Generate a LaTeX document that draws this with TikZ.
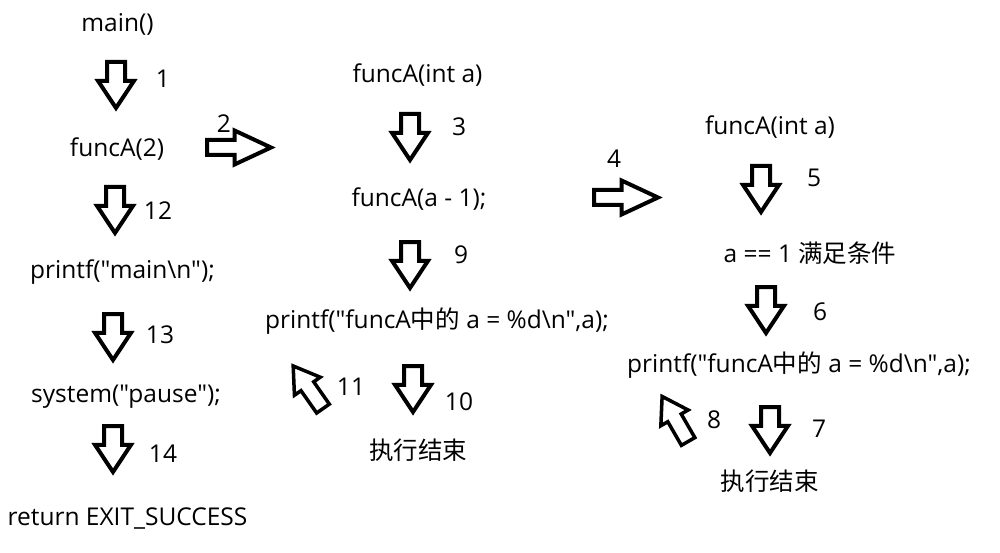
\documentclass[tikz,border=0pt]{standalone}
\usepackage{fontspec}
\setmainfont{Open Sans}[Ligatures=TeXOff]
\newfontfamily\cjk{Noto Sans CJK SC}
\usetikzlibrary{shapes.arrows}
\newcommand\dq{{\char34}}
\tikzset{
  txt/.style={inner sep=0pt, anchor=base, font=\fontsize{24.5}{28}\selectfont},
  darr/.style={single arrow, draw=black, line width=4pt, fill=white,
    inner xsep=0pt, inner ysep=7pt, minimum height=46pt,
    single arrow head extend=9pt, single arrow tip angle=67,
    rotate=-90, anchor=tail},
  harr/.style={single arrow, draw=black, line width=4pt, fill=white,
    inner xsep=0pt, inner ysep=5.5pt, minimum height=64pt,
    single arrow head extend=9.5pt, single arrow tip angle=50, anchor=tail},
  diarr/.style={single arrow, draw=black, line width=3.5pt, fill=white,
    inner xsep=0pt, inner ysep=6pt, minimum height=52pt,
    single arrow head extend=8pt, single arrow tip angle=65, anchor=tail},
}
\begin{document}
\begin{tikzpicture}[x=1pt,y=-1pt]
\useasboundingbox[fill=white] (0,0) rectangle (1000,553);
% left column
\node[txt] (main) at (117.5,32) {main()};
\node[darr] (a1) at (116,60) {};
\node[txt] (n1) at (163,88) {1};
\node[txt] (callA2) at (117,157) {funcA(2)};
\node[harr] (a2) at (205,147.5) {};
\node[txt] (n2) at (224,133) {2};
\node[darr] (a12) at (115,185) {};
\node[txt] (n12) at (158,220) {12};
\node[txt] (pmain) at (122.5,278) {printf(\dq main\textbackslash n\dq);};
\node[darr] (a13) at (113,312) {};
\node[txt] (n13) at (160,343) {13};
\node[txt] (sys) at (126,402) {system(\dq pause\dq);};
\node[darr] (a14) at (113,424) {};
\node[txt] (n14) at (163,462) {14};
\node[txt] (ret) at (127.5,525) {return EXIT\_SUCCESS};
% middle column
\node[txt] (fA1) at (417.5,83) {funcA(int a)};
\node[darr] (a3) at (410,112) {};
\node[txt] (n3) at (459,136) {3};
\node[txt] (call1) at (419,207) {funcA(a - 1);};
\node[harr] (a4) at (592,197.5) {};
\node[txt] (n4) at (614,168) {4};
\node[darr] (a9) at (410,240) {};
\node[txt] (n9) at (461,263) {9};
\node[txt] (pf1) at (437,328) {printf(\dq funcA{\cjk 中的} a = \%d\textbackslash n\dq,a);};
\node[diarr, rotate=125] (a11) at (324,410) {};
\node[txt] (n11) at (351,395) {11};
\node[darr] (a10) at (413,364) {};
\node[txt] (n10) at (459,410) {10};
\node[txt] (end1) at (418,459) {\cjk 执行结束};
% right column
\node[txt] (fA2) at (770,135) {funcA(int a)};
\node[darr] (a5) at (761,164) {};
\node[txt] (n5) at (814,187) {5};
\node[txt] (cond) at (810,262) {a == 1 {\cjk 满足条件}};
\node[darr] (a6) at (766,285) {};
\node[txt] (n6) at (820,320) {6};
\node[txt] (pf2) at (799,372) {printf(\dq funcA{\cjk 中的} a = \%d\textbackslash n\dq,a);};
\node[diarr, rotate=120] (a8) at (689,443) {};
\node[txt] (n8) at (714,428) {8};
\node[darr] (a7) at (770,405) {};
\node[txt] (n7) at (819,437) {7};
\node[txt] (end2) at (769.5,490) {\cjk 执行结束};
\end{tikzpicture}
\end{document}
